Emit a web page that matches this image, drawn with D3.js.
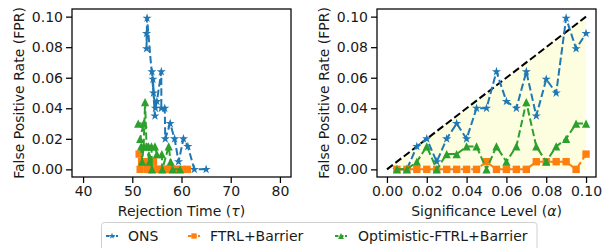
<!DOCTYPE html>
<html><head><meta charset="utf-8">
<script src="https://cdn.jsdelivr.net/npm/d3@7"></script>
<style>
body{margin:0;background:#fff;}
svg{font-family:"DejaVu Sans",sans-serif;}
</style></head>
<body><svg id="c" width="602" height="248"></svg>
<script>
// ---- data ----
const alphas = [0.005,0.01,0.015,0.02,0.025,0.03,0.035,0.04,0.045,0.05,0.055,0.06,0.065,0.07,0.075,0.08,0.085,0.09,0.095,0.1];
const fprONS  = [0,0,0.015,0.02,0.005,0.02,0.03,0.02,0.04,0.04,0.064,0.0445,0.04,0.064,0.035,0.059,0.05,0.099,0.079,0.089];
const fprFTRL = [0,0,0,0,0,0,0,0,0,0.005,0,0,0,0,0.005,0.005,0.005,0.005,0,0.01];
const fprOpt  = [0,0,0.005,0.015,0,0.01,0.01,0.015,0.015,0,0.015,0.005,0.015,0.044,0.015,0.005,0.015,0.02,0.03,0.03];
const tauONS  = [65.0,62.6,61.3,60.4,59.4,58.6,57.7,56.7,56.6,55.9,55.9,55.0,54.7,54.0,54.6,54.2,54.3,53.0,52.9,52.9];
const tauFTRL = [61.2,60.0,59.0,58.2,57.5,56.9,56.3,55.8,55.3,54.3,54.2,53.8,53.4,53.1,52.8,52.5,52.2,51.9,51.6,51.4];
const tauOpt  = [59.7,58.2,57.8,57.4,56.1,56.0,55.0,54.6,53.9,54.0,53.3,53.5,52.9,52.6,52.3,52.0,51.8,51.6,52.3,51.2];
const seriesNames = ["ONS","FTRL+Barrier","Optimistic-FTRL+Barrier"];
const colors = ["#1f77b4","#ff7f0e","#2ca02c"];
const xTicksTau = [40,50,60,70,80];
const xTicksAlpha = [0,0.02,0.04,0.06,0.08,0.1];
const yTicks = [0,0.02,0.04,0.06,0.08,0.1];

const svg = d3.select("#c");

function starPath(r){
  const inner = r*0.381966; let p=[];
  for(let i=0;i<10;i++){const rr=i%2?inner:r;const a=-Math.PI/2+i*Math.PI/5;p.push([rr*Math.cos(a),rr*Math.sin(a)]);}
  return "M"+p.map(d=>d.join(",")).join("L")+"Z";
}
function squarePath(s){const h=s/2;return `M${-h},${-h}L${h},${-h}L${h},${h}L${-h},${h}Z`;}
function triPath(s){const h=s/2;return `M0,${-h}L${h},${h}L${-h},${h}Z`;}
const markerFns = [k=>starPath(4.8*k), k=>squarePath(7.4*k), k=>triPath(8.2*k)];

const yRange=[177,9];
const y = d3.scaleLinear().domain([-0.005,0.105]).range(yRange);

function drawAxes(x, xl, xr, xticks, xfmt, xlabel, sym){
  const xa = svg.append("g").attr("transform",`translate(0,${yRange[0]})`)
    .call(d3.axisBottom(x).tickValues(xticks).tickFormat(xfmt).tickSize(6).tickPadding(3));
  const ya = svg.append("g").attr("transform",`translate(${xl},0)`)
    .call(d3.axisLeft(y).tickValues(yTicks).tickFormat(d3.format(".2f")).tickSize(6).tickPadding(3));
  [xa,ya].forEach(a=>{a.select(".domain").remove();
    a.selectAll("line").attr("stroke","#000").attr("stroke-width",1.25);
    a.selectAll("text").attr("font-size",14).attr("fill","#1a1a1a").attr("font-family","DejaVu Sans");});
  svg.append("rect").attr("x",xl).attr("y",yRange[1]).attr("width",xr-xl).attr("height",yRange[0]-yRange[1])
    .attr("fill","none").attr("stroke","#000").attr("stroke-width",1.25);
  const t = svg.append("text").attr("x",(xl+xr)/2).attr("y",211).attr("text-anchor","middle")
    .attr("dominant-baseline","central").attr("font-size",14).attr("fill","#1a1a1a");
  t.append("tspan").text(xlabel+" (");
  t.append("tspan").attr("font-style","italic").text(sym);
  t.append("tspan").text(")");
  svg.append("text").attr("transform",`translate(${xl-53},${(yRange[0]+yRange[1])/2}) rotate(-90)`)
    .attr("text-anchor","middle").attr("dominant-baseline","central").attr("font-size",14).attr("fill","#1a1a1a")
    .text("False Positive Rate (FPR)");
}

function drawSeries(x, xs, ys, i, clipId){
  const pts = xs.map((v,j)=>[x(v),y(ys[j])]);
  const g = svg.append("g").attr("clip-path",`url(#${clipId})`);
  g.append("path").attr("d",d3.line()(pts)).attr("fill","none").attr("stroke",colors[i])
    .attr("stroke-width",2).attr("stroke-dasharray","7.4,3.2");
  g.selectAll("path.m").data(pts).enter().append("path").attr("class","m")
    .attr("transform",d=>`translate(${d[0]},${d[1]})`).attr("d",markerFns[i](1)).attr("fill",colors[i]);
}

// left panel
const xL=72, xR=291;
const xTau = d3.scaleLinear().domain([37.75,82.25]).range([xL,xR]);
const defs = svg.append("defs");
defs.append("clipPath").attr("id","cl").append("rect").attr("x",xL).attr("y",yRange[1]).attr("width",xR-xL).attr("height",yRange[0]-yRange[1]);
drawSeries(xTau, tauONS, fprONS, 0, "cl");
drawSeries(xTau, tauFTRL, fprFTRL, 1, "cl");
drawSeries(xTau, tauOpt, fprOpt, 2, "cl");
drawAxes(xTau, xL, xR, xTicksTau, d3.format("d"), "Rejection Time", "τ");

// right panel
const xL2=377, xR2=596;
const xA = d3.scaleLinear().domain([-0.005,0.105]).range([xL2,xR2]);
defs.append("clipPath").attr("id","cr").append("rect").attr("x",xL2).attr("y",yRange[1]).attr("width",xR2-xL2).attr("height",yRange[0]-yRange[1]);
const diag = [0,0.1];
svg.append("path").attr("clip-path","url(#cr)")
  .attr("d",d3.area().x(d=>xA(d)).y0(y(0)).y1(d=>y(d))(diag)).attr("fill","#fdfddf");
svg.append("path").attr("d",d3.line().x(d=>xA(d)).y(d=>y(d))(diag)).attr("fill","none")
  .attr("stroke","#000").attr("stroke-width",2).attr("stroke-dasharray","7.4,3.2");
drawSeries(xA, alphas, fprONS, 0, "cr");
drawSeries(xA, alphas, fprFTRL, 1, "cr");
drawSeries(xA, alphas, fprOpt, 2, "cr");
drawAxes(xA, xL2, xR2, xTicksAlpha, d3.format(".2f"), "Significance Level", "α");

// legend
const lg = svg.append("g");
lg.append("rect").attr("x",101.5).attr("y",222.5).attr("width",435.5).attr("height",40).attr("rx",3)
  .attr("fill","#fff").attr("stroke","#d0d0d0").attr("stroke-width",1);
const lx = [106,188,335], tx=[128,210,358];
seriesNames.forEach((n,i)=>{
  lg.append("line").attr("x1",lx[i]).attr("x2",lx[i]+12).attr("y1",236).attr("y2",236)
    .attr("stroke",colors[i]).attr("stroke-width",2).attr("stroke-dasharray","3.5,1.5");
  lg.append("path").attr("transform",`translate(${lx[i]+6},236)`).attr("d",markerFns[i](0.72)).attr("fill",colors[i]);
  lg.append("text").attr("x",tx[i]).attr("y",236).attr("dominant-baseline","central")
    .attr("font-size",14).attr("fill","#1a1a1a").text(n);
});
</script></body></html>
